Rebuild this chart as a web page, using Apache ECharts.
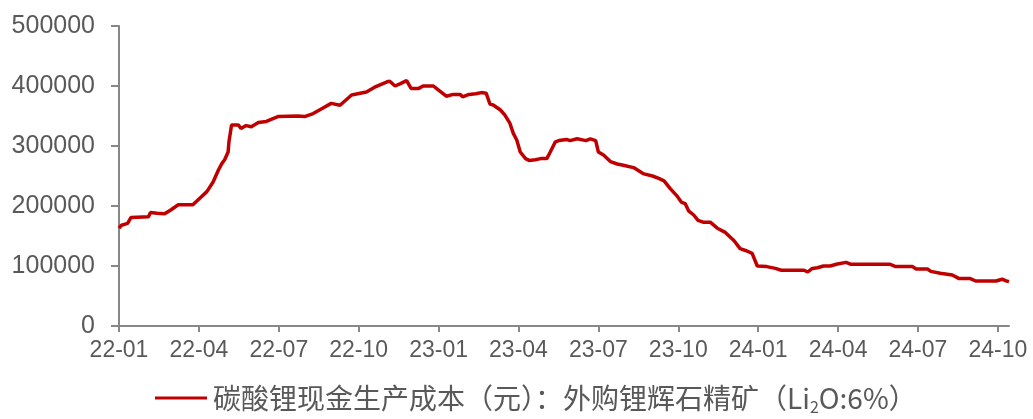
<!DOCTYPE html>
<html>
<head>
<meta charset="utf-8">
<script src="https://cdn.jsdelivr.net/npm/echarts@6/dist/echarts.min.js"></script>
<style>
html,body{margin:0;padding:0;background:#fff;}
#chart{width:1033px;height:419px;}
</style>
</head>
<body>
<div id="chart"></div>
<script>
const seriesName = '碳酸锂现金生产成本（元）：外购锂辉石精矿（Li2O:6%）';
const dates = [
 '2022-01-01','2022-01-04','2022-01-11','2022-01-15','2022-02-04','2022-02-06','2022-02-13','2022-02-21','2022-02-27','2022-03-08',
 '2022-03-25','2022-04-02','2022-04-10','2022-04-17','2022-04-23','2022-04-27','2022-04-30','2022-05-04','2022-05-05','2022-05-08',
 '2022-05-16','2022-05-19','2022-05-25','2022-05-31','2022-06-08','2022-06-17','2022-06-30','2022-07-23','2022-07-31','2022-08-10',
 '2022-08-21','2022-08-31','2022-09-10','2022-09-23','2022-10-10','2022-10-21','2022-11-03','2022-11-06','2022-11-12','2022-11-18',
 '2022-11-25','2022-11-30','2022-12-09','2022-12-14','2022-12-26','2023-01-01','2023-01-10','2023-01-18','2023-01-26','2023-01-29',
 '2023-02-05','2023-02-12','2023-02-18','2023-02-23','2023-02-27','2023-03-03','2023-03-11','2023-03-16','2023-03-22','2023-03-26',
 '2023-03-30','2023-04-03','2023-04-09','2023-04-13','2023-04-20','2023-04-26','2023-05-03','2023-05-07','2023-05-13','2023-05-17',
 '2023-05-26','2023-05-30','2023-06-07','2023-06-17','2023-06-22','2023-06-28','2023-07-01','2023-07-07','2023-07-15','2023-07-23',
 '2023-07-30','2023-08-11','2023-08-22','2023-09-02','2023-09-09','2023-09-15','2023-09-22','2023-09-30','2023-10-05','2023-10-09',
 '2023-10-13','2023-10-19','2023-10-24','2023-10-30','2023-11-07','2023-11-15','2023-11-24','2023-12-04','2023-12-11','2023-12-19',
 '2023-12-25','2023-12-31','2024-01-11','2024-01-21','2024-01-28','2024-02-22','2024-02-26','2024-03-02','2024-03-08','2024-03-15',
 '2024-03-23','2024-03-30','2024-04-10','2024-04-15','2024-05-30','2024-06-06','2024-06-25','2024-06-29','2024-07-12','2024-07-16',
 '2024-07-27','2024-08-10','2024-08-18','2024-08-31','2024-09-06','2024-09-08','2024-09-10','2024-09-29','2024-10-06','2024-10-10',
 '2024-10-14'
];
const costValues = [
 163000,168000,171000,181000,182000,189000,188000,187000,193000,202000,
 202000,213000,224000,240000,260000,271000,277000,290000,307000,335000,
 335000,329000,334000,332000,339000,341000,349000,350000,349000,354000,
 363000,371000,368000,385000,390000,399000,407000,408000,400000,404000,
 409000,396000,396000,400000,400000,393000,383000,386000,386000,382000,
 386000,387000,389000,388000,370000,368000,360000,352000,338000,321000,
 310000,290000,279000,276000,277000,279000,279000,290000,307000,309000,
 311000,309000,312000,309000,312000,309000,290000,285000,274000,270000,
 268000,264000,254000,250000,246000,242000,229000,216000,206000,204000,
 192000,185000,176000,173000,173000,163000,156000,142000,129000,125000,
 121000,100000,99000,96000,93000,93000,90000,96000,97000,100000,
 100000,103000,106000,103000,103000,99000,99000,95000,95000,91000,
 88000,85000,79000,79000,75000,78000,75000,75000,78000,75500,
 74000
];
const tickLabels = ['22-01','22-04','22-07','22-10','23-01','23-04','23-07','23-10','24-01','24-04','24-07','24-10'];

function monthIndex(s){
  const [Y,M,D] = s.split('-').map(Number);
  const dim = new Date(Y, M, 0).getDate();
  return (Y-2022)*12 + (M-1) + (D-1)/dim;
}
const tickPos = tickLabels.map((t,i)=>i*3);
const data = dates.map((d,i)=>[monthIndex(d), costValues[i]]);
const xMax = monthIndex(dates[dates.length-1]);

const chart = echarts.init(document.getElementById('chart'), null, {renderer:'canvas'});
const labelFont = '"Liberation Sans", Arial, sans-serif';
chart.setOption({
  animation:false,
  backgroundColor:'#ffffff',
  grid:{left:119,right:24,top:26,bottom:93},
  xAxis:{
    type:'value',min:0,max:xMax,interval:3,
    splitLine:{show:false},
    axisLine:{show:true,onZero:false,lineStyle:{color:'#878787',width:2}},
    axisTick:{show:true,length:6,lineStyle:{color:'#878787',width:2},customValues:tickPos},
    axisLabel:{customValues:tickPos,color:'#595959',fontSize:23,fontFamily:labelFont,margin:13,
      formatter:v=>{const i=Math.round(v/3);return tickLabels[i]||'';}}
  },
  yAxis:{
    type:'value',min:0,max:500000,interval:100000,
    splitLine:{show:false},
    axisLine:{show:true,lineStyle:{color:'#878787',width:2}},
    axisTick:{show:true,length:8,lineStyle:{color:'#878787',width:2}},
    axisLabel:{color:'#595959',fontSize:25,fontFamily:labelFont,margin:24,formatter:v=>String(v)}
  },
  legend:{
    show:true,left:155,top:381,padding:0,
    icon:'rect',itemWidth:52,itemHeight:3,itemGap:10,
    data:[seriesName],
    formatter:()=> '碳酸锂现金生产成本（元）：外购锂辉石精矿（Li{sub|2}O:6%）',
    textStyle:{color:'#595959',fontSize:28,lineHeight:30,fontFamily:'"Noto Sans CJK SC", sans-serif',padding:[0,0,0,1],
      rich:{sub:{fontSize:16,color:'#595959',fontFamily:'"Noto Sans CJK SC", sans-serif',verticalAlign:'bottom',lineHeight:34}}}
  },
  series:[{
    name:seriesName,type:'line',data:data,
    showSymbol:false,symbol:'none',
    lineStyle:{color:'#C00000',width:3.5},
    itemStyle:{color:'#C00000'}
  }]
});
</script>
</body>
</html>
